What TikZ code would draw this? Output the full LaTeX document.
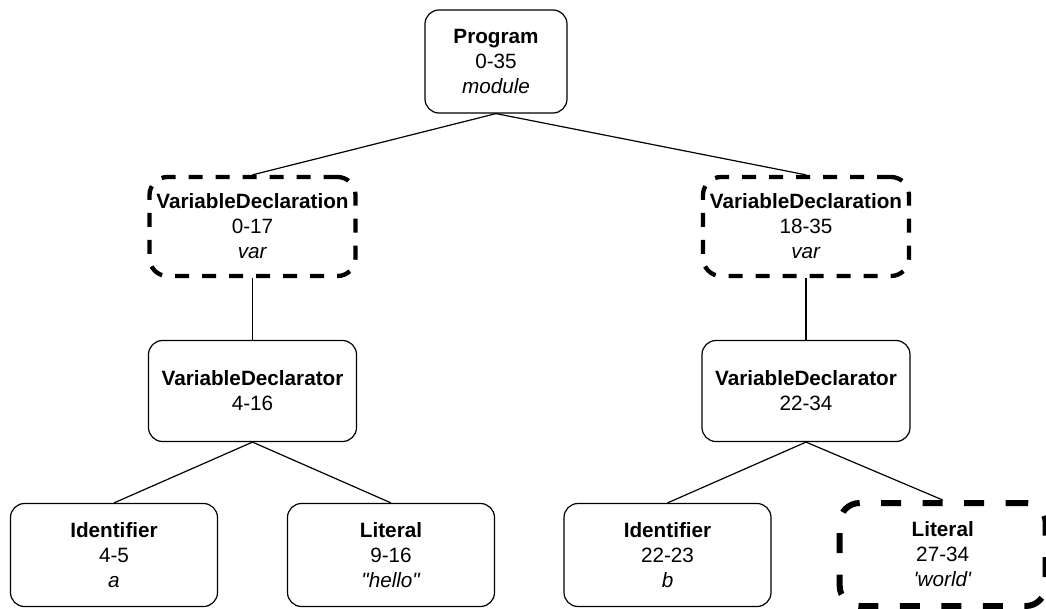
\documentclass[tikz,border=0pt]{standalone}
\usepackage{fontspec}
\setmainfont{Liberation Sans}[Ligatures=TeXOff]
\begin{document}
\begin{tikzpicture}[x=1pt,y=-1pt,
  box/.style={draw, rounded corners=14pt, line width=1.2pt, align=center,
    inner sep=0pt, font=\fontsize{20.7}{25}\selectfont, minimum height=103pt},
  dbox/.style={box, line width=4.3pt, dash pattern=on 14pt off 13pt, rounded corners=18pt},
  dboxthick/.style={box, line width=6pt, dash pattern=on 20pt off 21.5pt, rounded corners=20pt},
  edge/.style={line width=1.2pt}]
\useasboundingbox (0,0) rectangle (1046,608);
\node[box, minimum width=142pt] (prog) at (496,61.5) {\textbf{Program}\\0-35\\\textit{module}};
\node[dbox, minimum width=206pt, minimum height=99pt] (vd1) at (252.5,226.5) {\textbf{VariableDeclaration}\\0-17\\\textit{var}};
\node[dbox, minimum width=206pt, minimum height=99pt] (vd2) at (806,226.5) {\textbf{VariableDeclaration}\\18-35\\\textit{var}};
\node[box, minimum width=208pt, minimum height=101pt] (vdr1) at (252.5,391) {\textbf{VariableDeclarator}\\4-16};
\node[box, minimum width=208pt, minimum height=101pt] (vdr2) at (806,391) {\textbf{VariableDeclarator}\\22-34};
\node[box, minimum width=207pt] (id1) at (114,555) {\textbf{Identifier}\\4-5\\\textit{a}};
\node[box, minimum width=207pt] (lit1) at (391,555) {\textbf{Literal}\\9-16\\\textit{"hello"}};
\node[box, minimum width=207pt] (id2) at (667.5,555) {\textbf{Identifier}\\22-23\\\textit{b}};
\node[dboxthick, minimum width=206pt, minimum height=103pt] (lit2) at (942.7,554.5) {\textbf{Literal}\\27-34\\\textit{'world'}};
\draw[edge] (prog.south) -- (vd1.north);
\draw[edge] (prog.south) -- (vd2.north);
\draw[edge] (vd1.south) -- (vdr1.north);
\draw[edge] (vd2.south) -- (vdr2.north);
\draw[edge] (vdr1.south) -- (id1.north);
\draw[edge] (vdr1.south) -- (lit1.north);
\draw[edge] (vdr2.south) -- (id2.north);
\draw[edge] (vdr2.south) -- (lit2.north);
\end{tikzpicture}
\end{document}
